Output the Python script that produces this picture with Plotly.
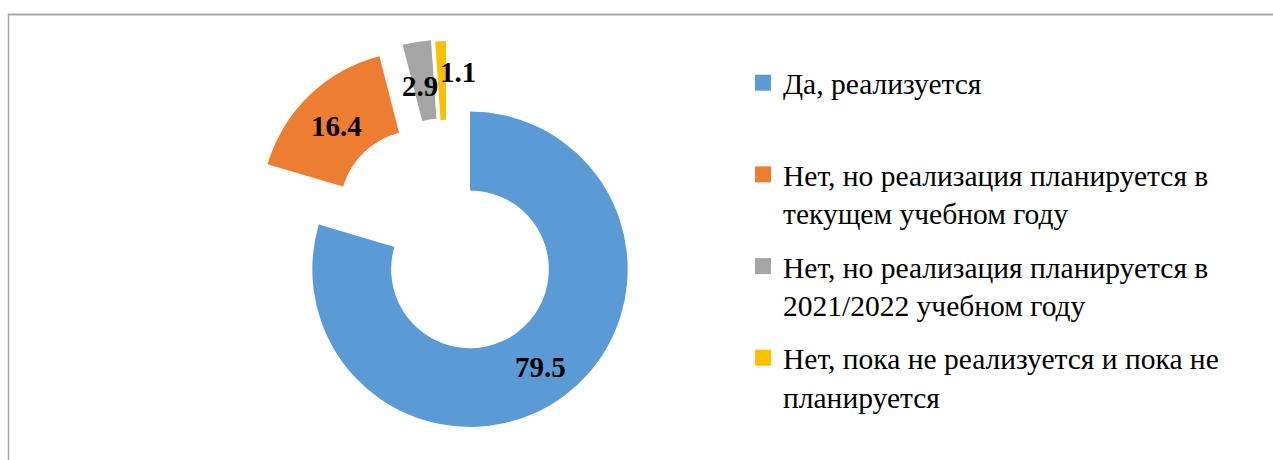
import math
import plotly.graph_objects as go

# Survey answers and their shares (%)
labels = [
    "Да, реализуется",
    "Нет, но реализация планируется в<br>текущем учебном году",
    "Нет, но реализация планируется в<br>2021/2022 учебном году",
    "Нет, пока не реализуется и пока не<br>планируется",
]
values = [79.5, 16.4, 2.9, 1.1]
colors = ["#5B9BD5", "#ED7D31", "#A5A5A5", "#FFC000"]

W, H = 1273, 460
FONT = "Liberation Serif"

# donut geometry (pixels)
cx, cy = 470.0, 269.3
radius = 157.7
hole = 0.5
# per-slice displacement of the exploded sectors (pixels, y downward)
explode = [(0.0, 0.0), (-51.3, -60.3), (-28.1, -71.8), (-24.0, -70.6)]
# small nudges of value labels (pixels)
label_nudge = [(0, 3), (0, 2), (-3, 5), (16, -8)]


def px_to_paper(x, y):
    return x / W, 1 - y / H


fig = go.Figure()

# one pie per sector so each sector can be displaced on its own
for i, (dx, dy) in enumerate(explode):
    scx, scy = cx + dx, cy + dy
    x0, y0 = px_to_paper(scx - radius, scy + radius)
    x1, y1 = px_to_paper(scx + radius, scy - radius)
    slice_colors = [c if j == i else "rgba(0,0,0,0)" for j, c in enumerate(colors)]
    fig.add_trace(go.Pie(
        labels=labels,
        values=values,
        sort=False,
        direction="clockwise",
        rotation=0,
        hole=hole,
        marker=dict(colors=slice_colors, line=dict(width=0)),
        textinfo="none",
        hoverinfo="skip",
        showlegend=False,
        domain=dict(x=[x0, x1], y=[y0, y1]),
    ))

# value labels at the middle of each sector ring
total = sum(values)
cum = 0.0
r_mid = radius * (1 + hole) / 2
for i, v in enumerate(values):
    frac = (cum + v / 2) / total
    cum += v
    ang = 2 * math.pi * frac
    lx = cx + explode[i][0] + r_mid * math.sin(ang) + label_nudge[i][0]
    ly = cy + explode[i][1] - r_mid * math.cos(ang) + label_nudge[i][1]
    ax, ay = px_to_paper(lx, ly)
    fig.add_annotation(
        x=ax, y=ay, xref="paper", yref="paper",
        text=f"<b>{v}</b>", showarrow=False,
        font=dict(family=FONT, size=29, color="#000000"),
        xanchor="center", yanchor="middle",
    )

# legend entries
for i, (lab, col) in enumerate(zip(labels, colors)):
    name = lab if "<br>" in lab else lab + "<br>\u00a0"
    fig.add_trace(go.Scatter(
        x=[None], y=[None], mode="markers", name=name,
        marker=dict(symbol="square", size=16, color=col),
        legendgroup=f"g{i}", showlegend=True, hoverinfo="skip",
    ))

# chart frame (top and left edges)
fig.add_shape(type="line", xref="paper", yref="paper",
              x0=8 / W, x1=1, y0=1 - 14.6 / H, y1=1 - 14.6 / H,
              line=dict(color="#A6A6A6", width=2))
fig.add_shape(type="line", xref="paper", yref="paper",
              x0=8.5 / W, x1=8.5 / W, y0=0, y1=1 - 14 / H,
              line=dict(color="#A6A6A6", width=1.5))

fig.update_layout(
    width=W, height=H, autosize=False,
    margin=dict(l=0, r=0, t=0, b=0),
    paper_bgcolor="white", plot_bgcolor="white",
    xaxis=dict(visible=False), yaxis=dict(visible=False),
    legend=dict(
        x=743 / W, y=1 - 57 / H, xanchor="left", yanchor="top",
        font=dict(family=FONT, size=29.5, color="#000000"),
        valign="top", tracegroupgap=12,
        bgcolor="rgba(0,0,0,0)", itemsizing="trace",
    ),
    showlegend=True,
)

fig.write_html("out.html")
